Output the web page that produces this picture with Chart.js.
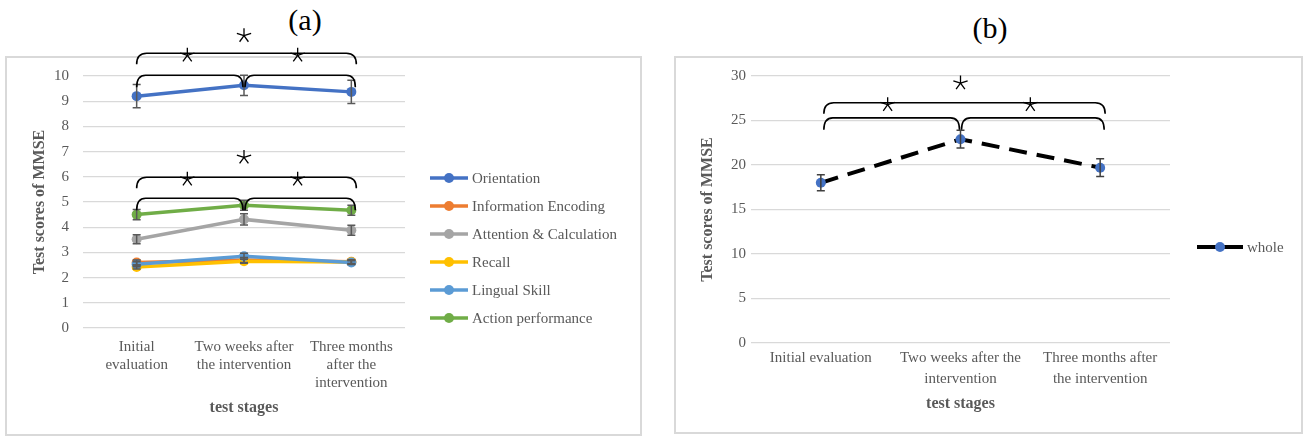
<!DOCTYPE html>
<html>
<head>
<meta charset="utf-8">
<script src="https://cdn.jsdelivr.net/npm/chart.js@4.4.0/dist/chart.umd.min.js"></script>
<style>
  body { margin:0; background:#fff; width:1306px; height:438px; position:relative; overflow:hidden; font-family:'Liberation Serif', 'Times New Roman', serif; }
  .frame { position:absolute; border:2px solid #d9d9d9; box-sizing:border-box; }
  .tag { position:absolute; font-size:30px; transform:translate(-50%,-50%); color:#000; }
  canvas { position:absolute; top:0; }
</style>
</head>
<body>
<div class="frame" style="left:5px;top:56px;width:637px;height:380px"></div>
<div class="frame" style="left:674px;top:56px;width:629px;height:378px"></div>
<div class="tag" style="left:305px;top:20px">(a)</div>
<div class="tag" style="left:990px;top:28px">(b)</div>
<canvas id="chartA" width="645" height="438" style="left:0"></canvas>
<canvas id="chartB" width="646" height="438" style="left:660px"></canvas>
<script>
// categories
var stagesA = [['Initial', 'evaluation'], ['Two weeks after', 'the intervention'], ['Three months', 'after the', 'intervention']];
var stagesB = ['Initial evaluation', ['Two weeks after the', 'intervention'], ['Three months after', 'the intervention']];
var domainNames = ['Orientation', 'Information Encoding', 'Attention & Calculation', 'Recall', 'Lingual Skill', 'Action performance'];

// panel (a) values and error bars
var orientation = [9.2, 9.63, 9.37];
var orientationErr = [0.46, 0.4, 0.46];
var infoEncoding = [2.6, 2.7, 2.63];
var infoEncodingErr = [0.1, 0.1, 0.08];
var attention = [3.52, 4.31, 3.88];
var attentionErr = [0.18, 0.22, 0.2];
var recall = [2.42, 2.65, 2.62];
var recallErr = [0.08, 0.08, 0.06];
var lingual = [2.53, 2.85, 2.6];
var lingualErr = [0.1, 0.12, 0.08];
var action = [4.5, 4.87, 4.67];
var actionErr = [0.2, 0.2, 0.2];

// panel (b)
var whole = [18.0, 22.9, 19.7];
var wholeErr = [0.9, 1.0, 1.0];

// tick labels
var ticksA = [0, 1, 2, 3, 4, 5, 6, 7, 8, 9, 10];
var ticksB = [0, 5, 10, 15, 20, 25, 30];

// significance brackets (in score units)
var sigA = [{ outer: 10.9, inner: 10.03, star: 11.6 }, { outer: 5.98, inner: 5.15, star: 6.77 }];
var sigB = [{ outer: 27.0, inner: 25.3, star: 29.2 }];

var colors = ['#4472C4', '#ED7D31', '#A5A5A5', '#FFC000', '#5B9BD5', '#70AD47'];
var FONT = "'Liberation Serif', 'Times New Roman', serif";
var TXT = '#595959';

function curl(ctx, xa, xb, y, drop, r) {
  ctx.beginPath();
  ctx.moveTo(xa, y + drop);
  ctx.quadraticCurveTo(xa, y, xa + r, y);
  ctx.lineTo(xb - r, y);
  ctx.quadraticCurveTo(xb, y, xb, y + drop);
  ctx.stroke();
}

function star(ctx, cx, cy) {
  ctx.beginPath();
  for (var k = 0; k < 5; k++) {
    var a = -Math.PI / 2 + k * 2 * Math.PI / 5;
    ctx.moveTo(cx, cy);
    ctx.lineTo(cx + 7.5 * Math.cos(a), cy + 7.5 * Math.sin(a));
  }
  ctx.stroke();
}

var bracketPlugin = {
  id: 'brackets',
  afterDraw: function(chart, args, opts) {
    var ctx = chart.ctx, xs = chart.scales.x, ys = chart.scales.y;
    var x0 = xs.getPixelForValue(0), x1 = xs.getPixelForValue(1), x2 = xs.getPixelForValue(2);
    ctx.save();
    ctx.strokeStyle = '#000';
    opts.groups.forEach(function(g) {
      var yo = ys.getPixelForValue(g.outer), yi = ys.getPixelForValue(g.inner), yst = ys.getPixelForValue(g.star);
      ctx.lineWidth = 1.6;
      curl(ctx, x0 + opts.shift, x2 + 5, yo, 11, 10);
      curl(ctx, x0 + opts.shift, x1 - 1, yi, 12, 9);
      curl(ctx, x1 + 1, x2 + 4, yi, 12, 9);
      ctx.lineWidth = 1.3;
      star(ctx, x1, yst);
      star(ctx, (x0 + x1) / 2 - 3, yo + 2);
      star(ctx, (x1 + x2) / 2, yo + 2);
    });
    ctx.restore();
  }
};

var errorBarPlugin = {
  id: 'errorBars',
  afterDatasetsDraw: function(chart, args, opts) {
    var ctx = chart.ctx, ys = chart.scales.y;
    ctx.save();
    ctx.strokeStyle = opts.color;
    ctx.lineWidth = 1.5;
    chart.data.datasets.forEach(function(ds, i) {
      var meta = chart.getDatasetMeta(i);
      meta.data.forEach(function(pt, j) {
        var e = ds.errors[j];
        var top = ys.getPixelForValue(ds.data[j] + e), bot = ys.getPixelForValue(ds.data[j] - e);
        ctx.beginPath();
        ctx.moveTo(pt.x, top); ctx.lineTo(pt.x, bot);
        ctx.moveTo(pt.x - 4, top); ctx.lineTo(pt.x + 4, top);
        ctx.moveTo(pt.x - 4, bot); ctx.lineTo(pt.x + 4, bot);
        ctx.stroke();
      });
    });
    ctx.restore();
  }
};

var legendPlugin = {
  id: 'sideLegend',
  afterDraw: function(chart, args, opts) {
    var ctx = chart.ctx, area = chart.chartArea;
    ctx.save();
    ctx.font = '15px ' + FONT;
    ctx.textBaseline = 'middle';
    chart.data.datasets.forEach(function(ds, i) {
      var x = area.right + opts.dx, y = opts.y0 + i * 28;
      ctx.strokeStyle = ds.borderColor;
      ctx.lineWidth = ds.borderWidth;
      ctx.beginPath(); ctx.moveTo(x, y); ctx.lineTo(x + opts.len, y); ctx.stroke();
      ctx.fillStyle = ds.pointBackgroundColor;
      ctx.beginPath(); ctx.arc(x + opts.len / 2, y, 5, 0, Math.PI * 2); ctx.fill();
      ctx.fillStyle = TXT;
      ctx.fillText(ds.label, x + opts.len + 4, y + 1);
    });
    ctx.restore();
  }
};

function axes(ticks, yWidth, yTickPad, yTitlePad, xHeight, xTitlePad, xTickPad, xLineHeight) {
  return {
    x: {
      offset: true,
      grid: { display: false, drawTicks: false },
      border: { display: false },
      ticks: { color: TXT, padding: xTickPad, maxRotation: 0, autoSkip: false, font: { family: FONT, size: 15, lineHeight: xLineHeight } },
      title: { display: true, text: 'test stages', color: TXT, font: { family: FONT, size: 16, weight: 'bold' }, padding: { top: 0, bottom: xTitlePad } },
      afterFit: function(s) { s.height = xHeight; }
    },
    y: {
      min: ticks[0],
      max: ticks[ticks.length - 1],
      ticks: { stepSize: ticks[1] - ticks[0], color: TXT, padding: yTickPad, font: { family: FONT, size: 15 } },
      grid: { color: '#d9d9d9', lineWidth: 1.3, drawTicks: false },
      border: { display: false },
      title: { display: true, text: 'Test scores of MMSE', color: TXT, font: { family: FONT, size: 16, weight: 'bold' }, padding: { top: yTitlePad, bottom: 0 } },
      afterFit: function(s) { s.width = yWidth; }
    }
  };
}

var seriesA = [orientation, infoEncoding, attention, recall, lingual, action];
var errsA = [orientationErr, infoEncodingErr, attentionErr, recallErr, lingualErr, actionErr];

new Chart(document.getElementById('chartA'), {
  type: 'line',
  data: {
    labels: stagesA,
    datasets: seriesA.map(function(vals, i) {
      return {
        label: domainNames[i],
        data: vals,
        errors: errsA[i],
        order: seriesA.length - i,
        borderColor: colors[i],
        backgroundColor: colors[i],
        pointBackgroundColor: colors[i],
        pointBorderWidth: 0,
        borderWidth: 3.5,
        pointRadius: 5,
        tension: 0
      };
    })
  },
  options: {
    responsive: false,
    animation: false,
    layout: { padding: { left: 0, right: 240, top: 76, bottom: 0 } },
    scales: axes(ticksA, 83, 14, 30, 110, 21, 10, 1.2),
    plugins: {
      legend: { display: false },
      tooltip: { enabled: false },
      errorBars: { color: '#595959' },
      brackets: { groups: sigA, shift: 0 },
      sideLegend: { dx: 25, y0: 178, len: 38 }
    }
  },
  plugins: [errorBarPlugin, bracketPlugin, legendPlugin]
});

new Chart(document.getElementById('chartB'), {
  type: 'line',
  data: {
    labels: stagesB,
    datasets: [{
      label: 'whole',
      data: whole,
      errors: wholeErr,
      borderColor: '#000',
      backgroundColor: '#4472C4',
      pointBackgroundColor: '#4472C4',
      pointBorderWidth: 0,
      borderWidth: 4,
      borderDash: [18, 10],
      pointRadius: 5,
      tension: 0
    }]
  },
  options: {
    responsive: false,
    animation: false,
    layout: { padding: { left: 0, right: 136, top: 76, bottom: 0 } },
    scales: axes(ticksB, 91, 5, 38, 95, 25, 5, 1.4),
    plugins: {
      legend: { display: false },
      tooltip: { enabled: false },
      errorBars: { color: '#404040' },
      brackets: { groups: sigB, shift: 3 },
      sideLegend: { dx: 27, y0: 247, len: 46 }
    }
  },
  plugins: [errorBarPlugin, bracketPlugin, legendPlugin]
});
</script>
</body>
</html>
